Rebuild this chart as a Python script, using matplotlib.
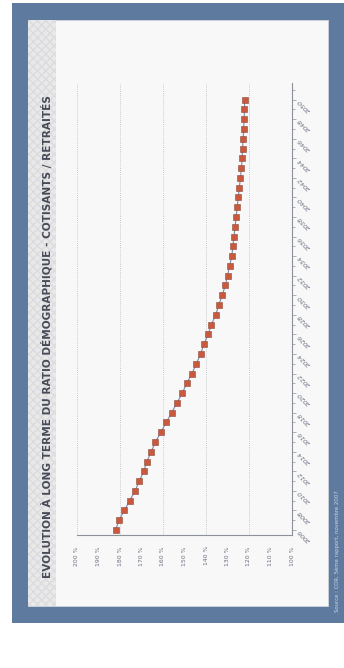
import matplotlib
matplotlib.use("Agg")
import matplotlib.pyplot as plt
from matplotlib.patches import Rectangle
from matplotlib.ticker import MultipleLocator, FixedLocator

W, H = 344, 668

years = list(range(2006, 2051))
ratio = [182, 180.5, 178, 175.5, 173, 171, 169, 167.5, 165.5, 163.5,
         161, 158.5, 156, 153.5, 151, 149, 146.5, 144.5, 142.5, 141,
         139, 137.5, 135.5, 134, 132.5, 131, 130, 129, 128, 127.5,
         127, 126.5, 126, 125.5, 125, 124.5, 124, 123.5, 123.2, 123,
         122.7, 122.5, 122.3, 122.1, 122]
value_ticks = [200, 190, 180, 170, 160, 150, 140, 130, 120, 110, 100]
grid_values = [200, 180, 160, 140, 120]
year_labels = list(range(2006, 2051, 2))

title = "EVOLUTION À LONG TERME DU RATIO DÉMOGRAPHIQUE - COTISANTS / RETRAITÉS"
source = "Source : COR, 5ème rapport, novembre 2007"

fig = plt.figure(figsize=(W / 100, H / 100), dpi=100)
fig.patch.set_facecolor("white")


def rect(x0, y0, x1, y1, **kw):
    r = Rectangle((x0 / W, 1 - y1 / H), (x1 - x0) / W, (y1 - y0) / H,
                  transform=fig.transFigure, **kw)
    fig.add_artist(r)
    return r


# blue frame
rect(12, 3, 344, 623, facecolor="#5e7a9f", edgecolor="none", zorder=0)
# inner panel
rect(28, 20, 328, 606, facecolor="#f8f8f8", edgecolor="#d0d4da", lw=0.6, zorder=1)
# title band
rect(28, 20, 56, 606, facecolor="#e9e9ea", edgecolor="#dcdcde", hatch="xxxx",
     lw=0, zorder=2)

fig.text(47 / W, 1 - 337 / H, title, rotation=90, ha="center", va="center",
         fontsize=7.6, fontweight="bold", color="#474b58", zorder=5)
fig.text(337 / W, 1 - 612 / H, source, rotation=90, ha="center", va="bottom",
         fontsize=3.9, color="#cdd5e3", zorder=5)

ax = fig.add_axes([77 / W, 1 - 535 / H, (292 - 77) / W, (535 - 83) / H])
ax.set_facecolor("#f8f8f8")
ax.set_zorder(3)

ax.plot(ratio, years, color="#7c8aa6", lw=0.8, marker="s", markersize=3.7,
        markerfacecolor="#c9583c", markeredgecolor="#8a4a3c", markeredgewidth=0.4)

ax.set_xlim(200, 100)
ax.set_ylim(2005.49, 2051.7)

for g in grid_values:
    ax.axvline(g, color="#b8bcc4", lw=0.6, ls=(0, (1, 1.5)), zorder=0)

for s in ["top", "left"]:
    ax.spines[s].set_visible(False)
ax.spines["bottom"].set_color("#8c9098")
ax.spines["right"].set_color("#8c9098")
ax.spines["bottom"].set_linewidth(0.8)
ax.spines["right"].set_linewidth(0.8)

ax.xaxis.set_major_locator(FixedLocator(value_ticks))
ax.set_xticklabels([f"{v} %" for v in value_ticks])
ax.tick_params(axis="x", length=0, labelsize=4.4, labelcolor="#6a7080",
               labelrotation=90, pad=8)

ax.yaxis.tick_right()
ax.yaxis.set_major_locator(FixedLocator(year_labels))
ax.yaxis.set_minor_locator(MultipleLocator(1))
ax.set_yticklabels([str(y) for y in year_labels])
ax.tick_params(axis="y", which="major", length=3, width=0.5, color="#8c9098",
               labelsize=4.6, labelcolor="#6a7080", pad=2)
ax.tick_params(axis="y", which="minor", length=2, width=0.5, color="#8c9098")
for lab in ax.get_yticklabels():
    lab.set_rotation(135)
    lab.set_rotation_mode("anchor")
    lab.set_ha("right")
    lab.set_va("center")
    lab.set_fontstyle("italic")

fig.savefig("out.png", dpi=100, facecolor="white")
